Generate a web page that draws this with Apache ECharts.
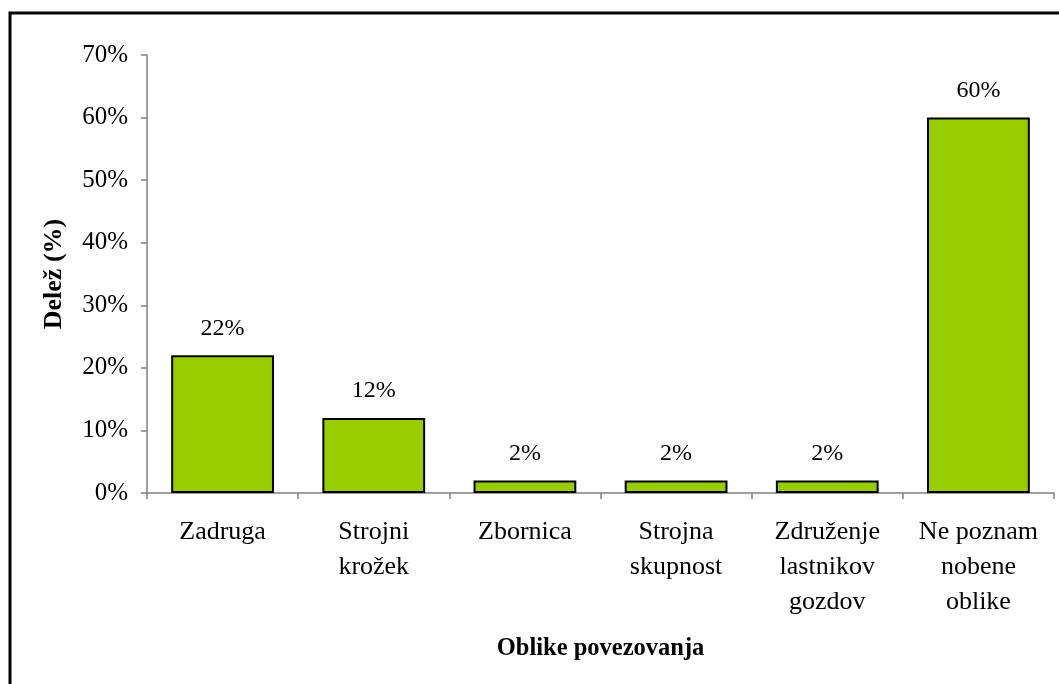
<!DOCTYPE html>
<html>
<head>
<meta charset="utf-8">
<script src="https://cdn.jsdelivr.net/npm/echarts@6/dist/echarts.min.js"></script>
<style>
  body { margin: 0; background: #fff; }
  #chart { width: 1059px; height: 684px; }
</style>
</head>
<body>
<div id="chart"></div>
<script>
// oblike povezovanja
var categories = ['Zadruga', 'Strojni\nkrožek', 'Zbornica', 'Strojna\nskupnost', 'Združenje\nlastnikov\ngozdov', 'Ne poznam\nnobene\noblike']
var shares = [22, 12, 2, 2, 2, 60]

var serif = 'Liberation Serif'
var myChart = echarts.init(document.getElementById('chart'))
var option = {
  animation: false,
  backgroundColor: '#fff',
  textStyle: { fontFamily: serif },
  graphic: [
    {
      type: 'rect',
      shape: { x: 10, y: 13, width: 1100, height: 720 },
      style: { fill: 'none', stroke: '#000', lineWidth: 3 },
      silent: true
    }
  ],
  grid: { left: 147, right: 5, top: 55, bottom: 191 },
  xAxis: {
    type: 'category',
    data: categories,
    name: 'Oblike povezovanja',
    nameLocation: 'middle',
    nameGap: 143,
    nameTextStyle: { fontFamily: serif, fontSize: 24.5, fontWeight: 'bold', color: '#000' },
    axisLine: { lineStyle: { color: '#808080', width: 1.5 } },
    axisTick: { show: true, length: 6, lineStyle: { color: '#808080', width: 1.5 } },
    axisLabel: { fontFamily: serif, fontSize: 26, color: '#000', lineHeight: 35, margin: 22, interval: 0 }
  },
  yAxis: {
    type: 'value',
    min: 0,
    max: 70,
    interval: 10,
    name: 'Delež (%)',
    nameLocation: 'middle',
    nameGap: 80,
    nameRotate: 90,
    nameTextStyle: { fontFamily: serif, fontSize: 26, fontWeight: 'bold', color: '#000' },
    splitLine: { show: false },
    axisLine: { show: true, lineStyle: { color: '#808080', width: 1.5 } },
    axisTick: { show: true, length: 6, lineStyle: { color: '#808080', width: 1.5 } },
    axisLabel: { fontFamily: serif, fontSize: 25, color: '#000', margin: 19, formatter: '{value}%' }
  },
  series: [
    {
      type: 'bar',
      data: shares,
      barWidth: '68%',
      itemStyle: { color: '#99cc00', borderColor: '#000', borderWidth: 2 },
      label: {
        show: true,
        position: 'top',
        distance: 15,
        fontFamily: serif,
        fontSize: 24,
        color: '#000',
        formatter: '{c}%'
      }
    }
  ]
}
myChart.setOption(option)
</script>
</body>
</html>
